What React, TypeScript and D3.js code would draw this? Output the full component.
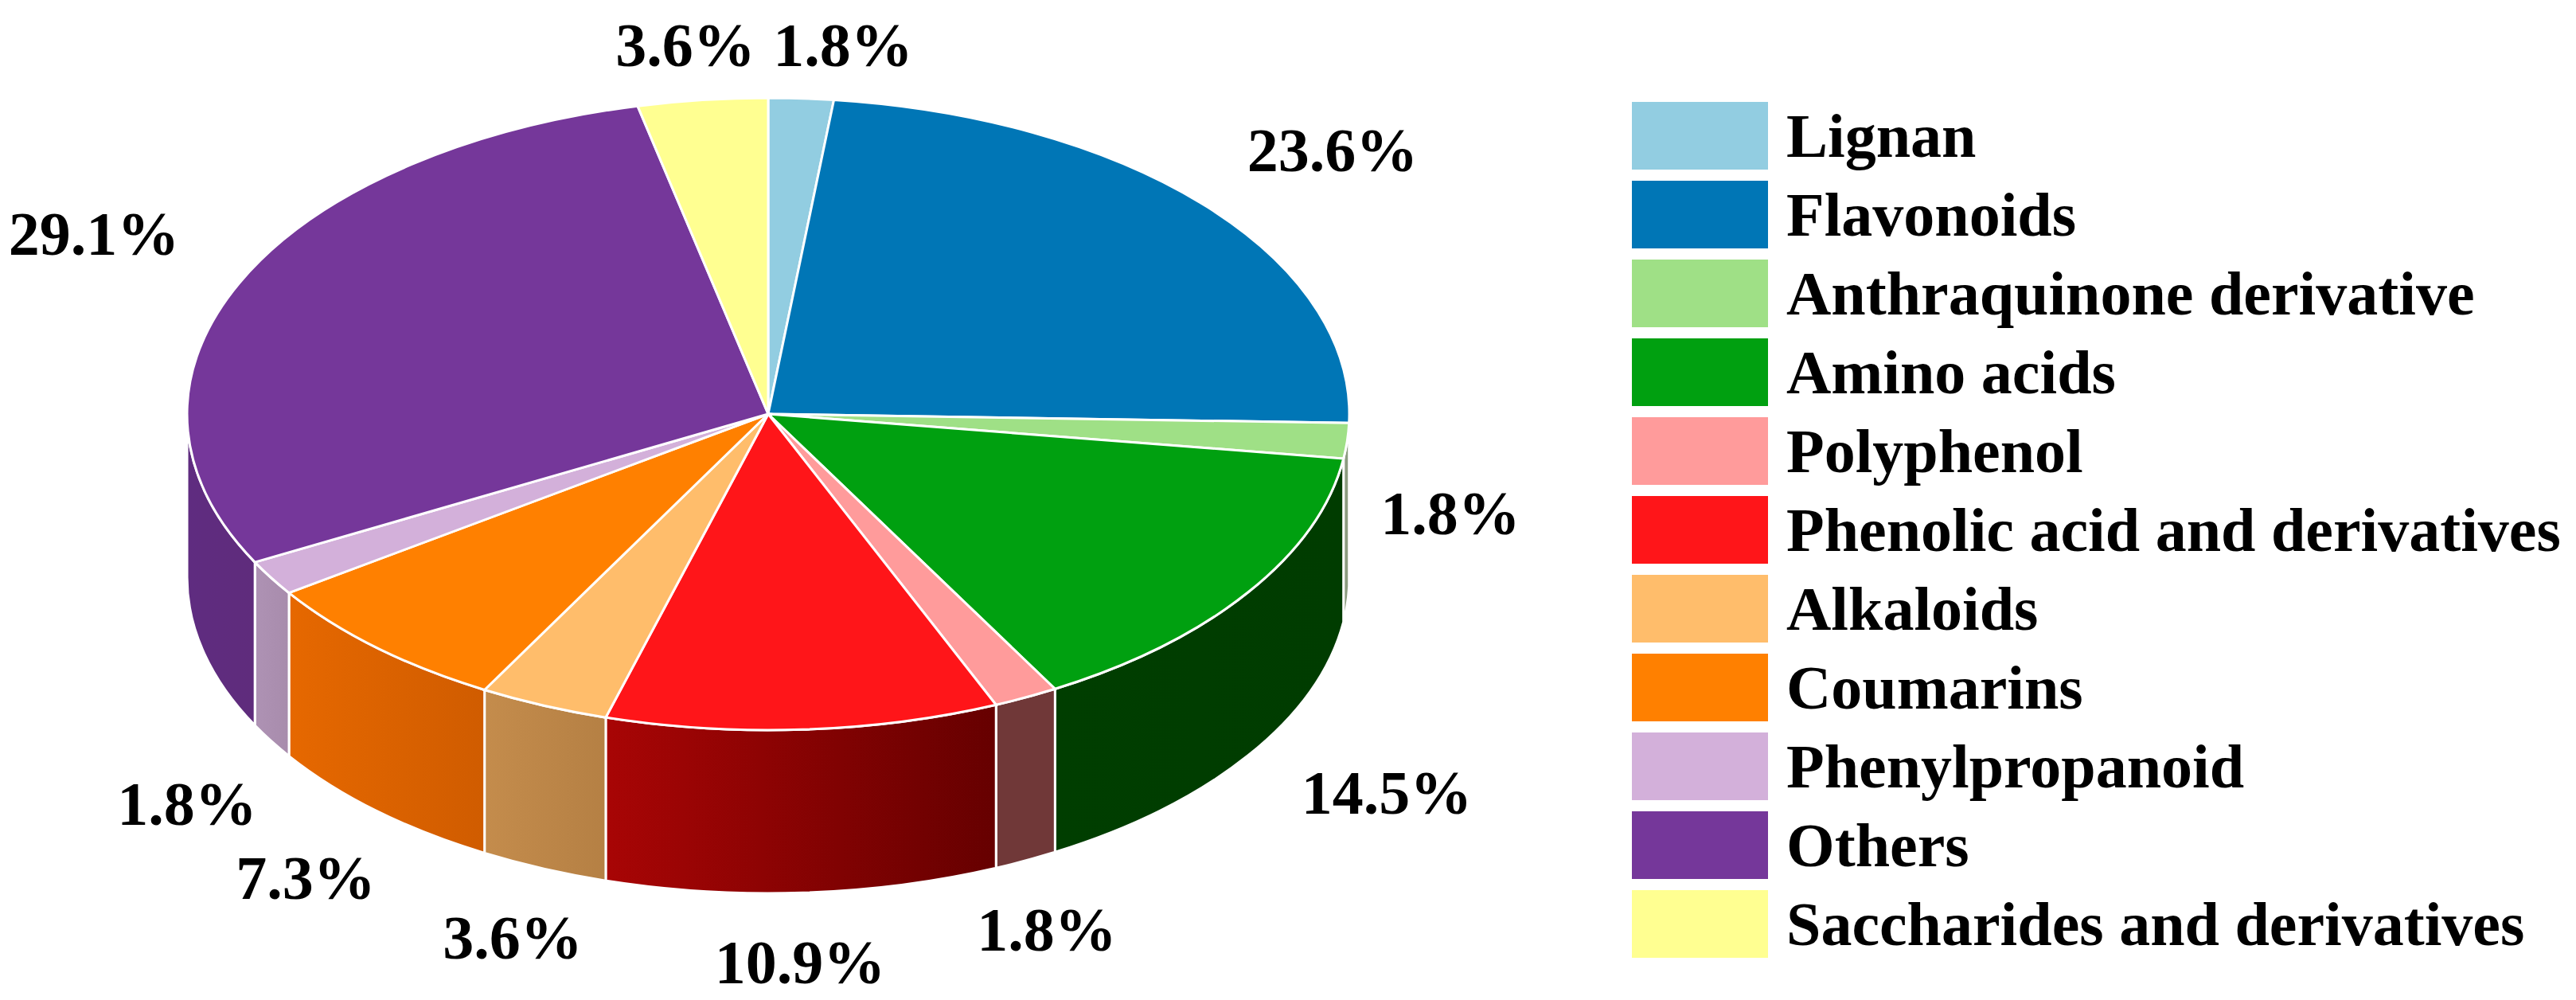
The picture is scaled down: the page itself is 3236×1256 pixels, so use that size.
import React from "react";
import * as d3 from "d3";

const categories = ["Lignan","Flavonoids","Anthraquinone derivative","Amino acids","Polyphenol","Phenolic acid and derivatives","Alkaloids","Coumarins","Phenylpropanoid","Others","Saccharides and derivatives"];
const values = [1.8,23.6,1.8,14.5,1.8,10.9,3.6,7.3,1.8,29.1,3.6];
const topColors = ["#92cde1","#0076b6","#9fe086","#00a010","#ff9b9b","#ff1519","#ffbd6b","#ff8000","#d3b0da","#75379a","#ffff91"];
const sideLeft = ["#6d8f9c","#004f7a","#8c9c80","#003e00","#703838","#a80505","#c48c4c","#e66800","#ae92b4","#5f2c80","#aaaa60"];
const sideRight = ["#6d8f9c","#004f7a","#8c9c80","#003c00","#703838","#660000","#b58044","#d05c00","#a88cac","#5f2c7c","#aaaa60"];
const labelAnchors: [number, number][] = [[1059,56],[1674,188],[1822,644],[1742,995],[1315,1167],[1005,1208],[644,1177],[384,1102],[235,1009],[118,293],[861,56]];

const W = 3236, H = 1256;
const CX = 965, CY = 520, RX = 730, RY = 397, DEPTH = 205;
const LEGEND_X = 2050, LEGEND_TOP = 128, LEGEND_STEP = 99, SWATCH_W = 171, SWATCH_H = 85;

const pieGen = d3.pie<number>().sort(null).value((d) => d);
const arcs = pieGen(values);
const arcGen = d3.arc<d3.PieArcDatum<number>>().innerRadius(0).outerRadius(RX);
const px = (a: number) => CX + RX * Math.sin(a);
const py = (a: number) => CY - RY * Math.cos(a);

function sidePath(a0: number, a1: number) {
  const s = Math.max(a0, Math.PI / 2), e = Math.min(a1, (3 * Math.PI) / 2);
  if (e <= s) return null;
  return `M${px(s)},${py(s)}A${RX},${RY} 0 0 1 ${px(e)},${py(e)}L${px(e)},${py(e) + DEPTH}A${RX},${RY} 0 0 0 ${px(s)},${py(s) + DEPTH}Z`;
}

export default function App() {
  const serif = "'Liberation Serif', serif";
  return (
    <svg width={W} height={H} viewBox={`0 0 ${W} ${H}`} style={{ position: "absolute", left: 0, top: 0, display: "block", background: "#fff" }}>
      <defs>
        {arcs.map((a, i) => {
          const s = Math.max(a.startAngle, Math.PI / 2), e = Math.min(a.endAngle, (3 * Math.PI) / 2);
          if (e <= s) return null;
          const xs = [px(s), px(e)];
          return (
            <linearGradient key={i} id={`side${i}`} gradientUnits="userSpaceOnUse" x1={Math.min(...xs)} x2={Math.max(...xs)} y1={0} y2={0}>
              <stop offset="0" stopColor={sideLeft[i]} />
              <stop offset="1" stopColor={sideRight[i]} />
            </linearGradient>
          );
        })}
      </defs>
      <g>
        {arcs.map((a, i) => {
          const d = sidePath(a.startAngle, a.endAngle);
          return d ? <path key={i} d={d} fill={`url(#side${i})`} stroke="#fff" strokeWidth={3} /> : null;
        })}
      </g>
      <g transform={`translate(${CX},${CY}) scale(1,${RY / RX})`}>
        {arcs.map((a, i) => (
          <path key={i} d={arcGen(a) as string} fill={topColors[i]} stroke="#fff" strokeWidth={3} vectorEffect="non-scaling-stroke" />
        ))}
      </g>
      <g fontFamily={serif} fontWeight="bold" fontSize={78} fill="#000" textAnchor="middle" dominantBaseline="central">
        {values.map((v, i) => (
          <text key={i} x={labelAnchors[i][0]} y={labelAnchors[i][1]}>{`${v.toFixed(1)}%`}</text>
        ))}
      </g>
      <g fontFamily={serif} fontWeight="bold" fontSize={78} fill="#000">
        {categories.map((c, i) => (
          <g key={c} transform={`translate(${LEGEND_X},${LEGEND_TOP + i * LEGEND_STEP})`}>
            <rect width={SWATCH_W} height={SWATCH_H} fill={topColors[i]} />
            <text x={194} y={SWATCH_H / 2} dominantBaseline="central">{c}</text>
          </g>
        ))}
      </g>
    </svg>
  );
}
